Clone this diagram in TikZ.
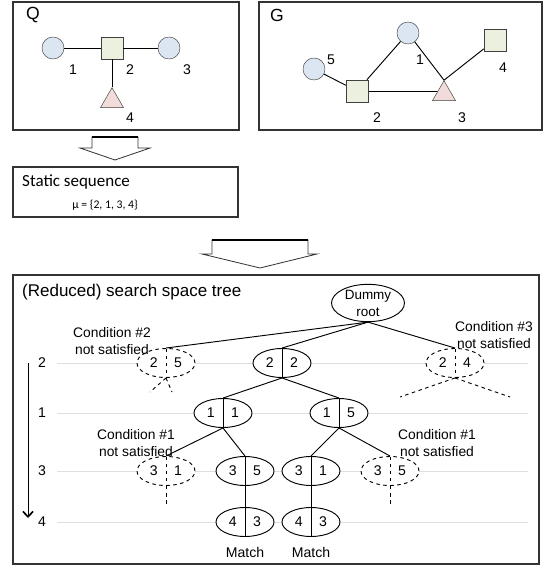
\documentclass[tikz,border=0pt]{standalone}
\usepackage{fontspec}
\setmainfont{Liberation Sans}
\newfontfamily\calibri{Carlito}
\usetikzlibrary{positioning, arrows.meta, shapes.geometric, backgrounds}
\usepackage{xcolor}
\definecolor{vblue}{HTML}{DCE6F2}
\definecolor{vgreen}{HTML}{EBF1DE}
\definecolor{vpink}{HTML}{F2DCDB}

\begin{document}
\begin{tikzpicture}[
        x=0.03cm, y=-0.03cm,
        frame/.style={draw=black!80, line width=0.9pt},
        edge/.style={line width=0.8pt},
        vcirc/.style={circle, draw=black!75, fill=vblue, minimum size=0.66cm, inner sep=0pt},
        vsq/.style={rectangle, draw=black!75, fill=vgreen, minimum size=0.66cm, inner sep=0pt},
        vtri/.style={regular polygon, regular polygon sides=3, draw=black!75, fill=vpink,
                     minimum size=0.8cm, inner sep=0pt},
        num/.style={inner sep=1pt, font=\fontsize{12}{14}\selectfont},
        vnum/.style={inner sep=1pt, font=\fontsize{12}{14}\selectfont},
        big/.style={inner sep=1pt, font=\fontsize{15}{17}\selectfont},
        note/.style={align=center, inner sep=0pt, font=\fontsize{11.8}{14}\selectfont},
        divider/.style={path picture={\draw[line width=0.7pt, #1] (path picture bounding box.north)
                                      -- (path picture bounding box.south);}},
        pair/.style={ellipse, draw, edge, fill=white, minimum width=1.74cm, minimum height=0.87cm,
                     inner sep=0pt, font=\fontsize{12}{14}\selectfont, divider=solid},
        pruned/.style={pair, dashed, divider=dashed},
        blockarrow/.style={draw=black!80, fill=white, line width=0.7pt, line join=miter},
        level/.style={gray!25, line width=0.8pt},
    ]
    \useasboundingbox (0,0) rectangle (549,568);

    % query graph Q
    \draw[frame] (13,2) rectangle (239,130);
    \node[big] (qname) at (33,15) {Q};
    \node[vcirc] (q1) at (53,48) {};
    \node[vsq]   (q2) at (112,48) {};
    \node[vcirc] (q3) at (169,48) {};
    \node[vtri]  (q4) at (112,101) {};
    \node[vnum] (q1l) at (73,70)  {1};
    \node[vnum] (q2l) at (130,70) {2};
    \node[vnum] (q3l) at (187,70) {3};
    \node[vnum] (q4l) at (130,118) {4};
    \draw[edge] (q1) -- (q2) -- (q3);
    \draw[edge] (q2) -- (q4.corner 1);

    % data graph G
    \draw[frame] (259,2) rectangle (542,130);
    \node[big] (gname) at (277,15) {G};
    \node[vcirc] (g1) at (408,33) {};
    \node[vsq]   (g4) at (495,40) {};
    \node[vcirc] (g5) at (314,69) {};
    \node[vsq]   (g2) at (357,91) {};
    \node[vtri]  (g3) at (444,94) {};
    \node[vnum] (g1l) at (420,60)  {1};
    \node[vnum] (g2l) at (377,118) {2};
    \node[vnum] (g3l) at (462,118) {3};
    \node[vnum] (g4l) at (503,68)  {4};
    \node[vnum] (g5l) at (331,60)  {5};
    \draw[edge] (g5) -- (g2);
    \draw[edge] (g2) -- (g1);
    \draw[edge] (g1) -- (g3.corner 1);
    \begin{scope}[on background layer]
        \draw[edge] (g2) -- (g2 -| g3);
    \end{scope}
    \draw[edge] (g3.corner 1) -- (g4);

    % Q -> static sequence
    \draw[blockarrow] (92,137) -- (92,148) -- (80,148) -- (115,160) -- (150,148)
        -- (138,148) -- (138,137) -- cycle;
    \draw[line width=2pt] (92,137) -- (138,137);

    \draw[frame] (13,167) rectangle (238,217);
    \node[anchor=west, inner sep=0pt, font=\calibri\fontsize{14.5}{17}\selectfont] (seqname)
        at (22,182) {Static sequence};
    \node[inner sep=0pt, font=\calibri\fontsize{10}{12}\selectfont] (seq)
        at (105,205) {μ = \{2, 1, 3, 4\}};

    % static sequence -> tree
    \draw[blockarrow] (212,240) -- (212,254) -- (202,254) -- (260,268) -- (317,254)
        -- (308,254) -- (308,240) -- cycle;
    \draw[line width=2pt] (212,240) -- (308,240);

    % search space tree
    \draw[frame] (13,275) rectangle (539,564);
    \node[anchor=west, inner sep=0pt, font=\fontsize{14.5}{17}\selectfont] (treename)
        at (22,292) {(Reduced) search space tree};

    \foreach \y/\lv in {363/2, 413/1, 471/3, 522/4} {
        \node[num] (lv\lv) at (42,\y) {\lv};
        \draw[level] (57,\y) -- (528,\y);
    }
    \coordinate (dtop) at (28,363);
    \coordinate (dend) at (28,518);
    \draw[edge, -{Straight Barb[length=1.6mm, width=3mm, line width=1.4pt]}] (dtop) -- (dend);

    \node[ellipse, draw, edge, fill=white, minimum width=2.19cm, minimum height=0.93cm,
          inner sep=0pt, align=center, font=\fontsize{11.5}{14.5}\selectfont] (root)
        at (368,303) {Dummy\\root};

    \node[pair]   (n22) at (282,363) {2\hspace{14pt}2};
    \node[pruned] (d25) at (166,363) {2\hspace{14pt}5};
    \node[pruned] (d24) at (455,363) {2\hspace{14pt}4};
    \node[pair]   (n11) at (223,413) {1\hspace{14pt}1};
    \node[pair]   (n15) at (339,413) {1\hspace{14pt}5};
    \node[pruned] (d31) at (166,471) {3\hspace{14pt}1};
    \node[pair]   (n35) at (245,471) {3\hspace{14pt}5};
    \node[pair]   (n31) at (311,471) {3\hspace{14pt}1};
    \node[pruned] (d35) at (390,471) {3\hspace{14pt}5};
    \node[pair]   (n43) at (245,522) {4\hspace{14pt}3};
    \node[pair]   (m43) at (311,522) {4\hspace{14pt}3};

    \node[num] (match1) at (245,552) {Match};
    \node[num] (match2) at (311,552) {Match};

    \node[note] (cond2)  at (112,341) {Condition \#2\\not satisfied};
    \node[note] (cond3)  at (494,335) {Condition \#3\\not satisfied};
    \node[note] (cond1a) at (136,443) {Condition \#1\\not satisfied};
    \node[note] (cond1b) at (437,443) {Condition \#1\\not satisfied};

    \draw[edge] (root.south) -- (d25.north);
    \draw[edge] (root.south) -- (n22.north);
    \draw[edge] (root.south) -- (d24.north);
    \draw[edge] (n22.south) -- (n11.north);
    \draw[edge] (n22.south) -- (n15.north);
    \draw[edge] (n11.south) -- (d31.north);
    \draw[edge] (n11.south) -- (n35.north);
    \draw[edge] (n15.south) -- (n31.north);
    \draw[edge] (n15.south) -- (d35.north);
    \draw[edge] (n35.south) -- (n43.north);
    \draw[edge] (n31.south) -- (m43.north);

    % cut-off branches
    \coordinate (d25a) at (150,392);
    \coordinate (d25b) at (172,392);
    \coordinate (d24a) at (400,397);
    \coordinate (d24b) at (510,397);
    \coordinate (d31a) at (166,507);
    \coordinate (d35a) at (390,507);
    \draw[edge, dashed] (d25.south) -- (d25a);
    \draw[edge, dashed] (d25.south) -- (d25b);
    \draw[edge, dashed] (d24.south) -- (d24a);
    \draw[edge, dashed] (d24.south) -- (d24b);
    \draw[edge, dashed] (d31.south) -- (d31a);
    \draw[edge, dashed] (d35.south) -- (d35a);
\end{tikzpicture}
\end{document}
